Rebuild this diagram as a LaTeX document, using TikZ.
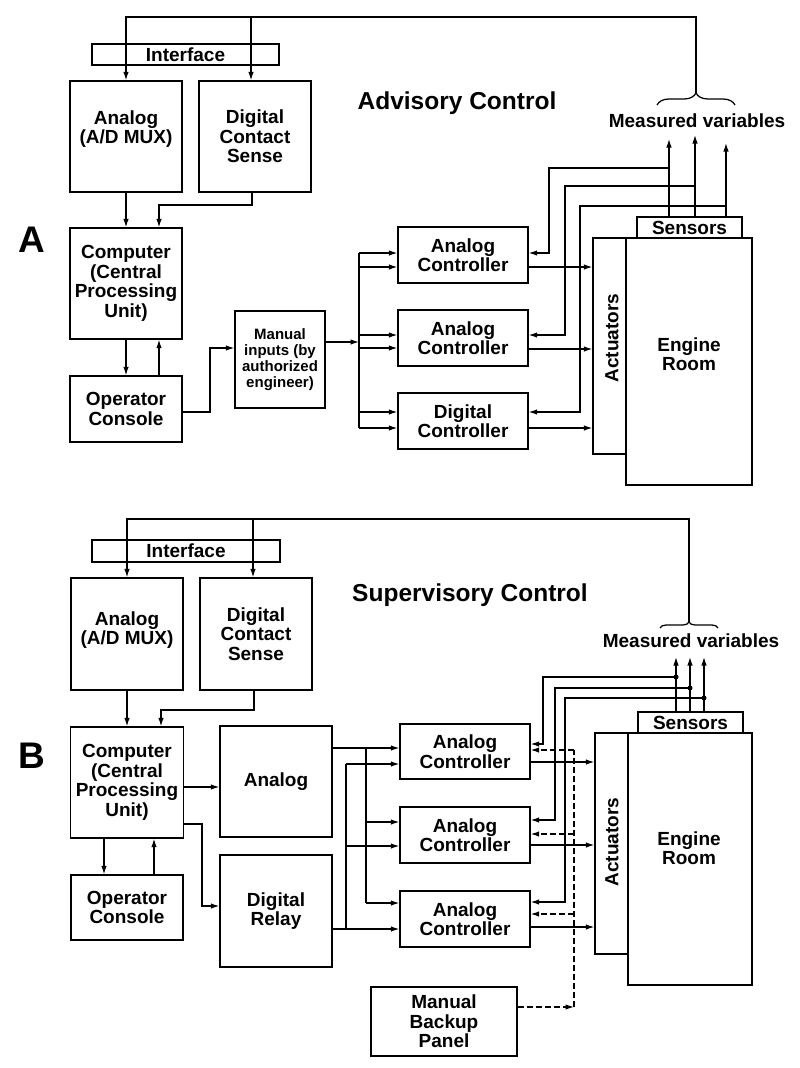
\documentclass[tikz,border=0pt]{standalone}
\usepackage{fontspec}
\setmainfont{Liberation Sans}
\usetikzlibrary{arrows.meta,decorations.pathreplacing}
\newcommand\lblf{\bfseries\fontsize{19}{19.5}\selectfont}
\newcommand\smf{\bfseries\fontsize{15}{16}\selectfont}
\newcommand\ttlf{\bfseries\fontsize{24.5}{26}\selectfont}
\newcommand\bigf{\bfseries\fontsize{37}{40}\selectfont}
\begin{document}
\begin{tikzpicture}[x=1pt,y=-1pt,
  box/.style={draw, line width=1.3pt, inner sep=0pt, align=center, font=\lblf},
  txt/.style={inner sep=0pt, align=center, font=\lblf},
  ln/.style={line width=1.25pt},
  arr/.style={ln, -{Latex[length=8.5pt,width=5.5pt]}},
  darr/.style={arr, dash pattern=on 6pt off 3pt},
  dln/.style={ln, dash pattern=on 6pt off 3pt},
  brc/.style={ln, decorate}]
\useasboundingbox (0,0) rectangle (800,1068);
\fill[white] (0,0) rectangle (800,1068);

% ================= Part A =================
\node[txt, font=\bigf] (labA) at (32,240) {A};
\node[txt, font=\ttlf] (ttlA) at (457,103) {Advisory Control};

\node[box, minimum width=187, minimum height=21] (ifA) at (185.5,54.5) {Interface};
\node[box, minimum width=112, minimum height=111] (anA) at (126,136.5) {};
\node[txt] (anAt) at (126,129) {Analog\\(A/D MUX)};
\node[box, minimum width=112, minimum height=111] (dcsA) at (255,136.5) {Digital\\Contact\\Sense};
\node[box, minimum width=112, minimum height=111] (cpuA) at (126,283.5) {Computer\\(Central\\Processing\\Unit)};
\node[box, minimum width=112, minimum height=66] (opA) at (126,409) {Operator\\Console};
\node[box, font=\smf, minimum width=90, minimum height=97] (manA) at (280,359.5) {Manual\\inputs (by\\authorized\\engineer)};
\node[box, minimum width=130, minimum height=56] (acA1) at (463,255) {Analog\\Controller};
\node[box, minimum width=130, minimum height=56] (acA2) at (463,338) {Analog\\Controller};
\node[box, minimum width=130, minimum height=56] (dcA) at (463,421) {Digital\\Controller};
\node[box, minimum width=105, minimum height=21] (senA) at (689.5,227.5) {Sensors};
\node[box, minimum width=33, minimum height=216] (actA) at (609.5,346) {};
\node[txt, rotate=90] (actAt) at (612,338) {Actuators};
\node[box, minimum width=126, minimum height=247] (engA) at (689,361.5) {};
\node[txt] (engAt) at (689,354) {Engine\\Room};

\coordinate (brA) at (696,93);
\draw[brc, decoration={brace, amplitude=12pt}] (657,105) -- (735,105);
\node[txt] (mvA) at (697,121) {Measured variables};

\draw[arr] (brA) |- (126,17) -- (126,0 |- anA.north);
\coordinate (jA) at (251,17);
\draw[arr] (jA) -- (251,0 |- dcsA.north);
\draw[arr] (anA.south) -- (cpuA.north);
\draw[arr] (252,0 |- dcsA.south) |- (159,205) -- (159,0 |- cpuA.north);
\draw[arr] (cpuA.south) -- (opA.north);
\draw[arr] (159,0 |- opA.north) -- (159,0 |- cpuA.south);
\draw[arr] (opA.east |- 0,412) -| (210,348) -- (manA.west |- 0,348);
\coordinate (busA) at (359,342);
\draw[arr] (manA.east |- busA) -- (busA);
\draw[ln] (359,253) -- (359,428);
\foreach \y/\n in {253/acA1,267/acA1,335/acA2,348/acA2,412/dcA,428/dcA}
  \draw[arr] (359,\y) -- (\n.west |- 0,\y);
\foreach \y/\n in {267/acA1,349/acA2,428/dcA}
  \draw[arr] (\n.east |- 0,\y) -- (actA.west |- 0,\y);
\draw[arr] (669,0 |- senA.north) -- (669,139);
\draw[arr] (695,0 |- senA.north) -- (695,135);
\draw[arr] (726,0 |- senA.north) -- (726,143);
\draw[arr] (669,168) -| (549,253) -- (acA1.east |- 0,253);
\draw[arr] (695,186) -| (565,335) -- (acA2.east |- 0,335);
\draw[arr] (726,206) -| (580,412) -- (dcA.east |- 0,412);

% ================= Part B =================
\node[txt, font=\bigf] (labB) at (32,756) {B};
\node[txt, font=\ttlf] (ttlB) at (470,595) {Supervisory Control};

\node[box, minimum width=188, minimum height=22] (ifB) at (186,551) {Interface};
\node[box, minimum width=112, minimum height=112] (anB) at (127,634) {};
\node[txt] (anBt) at (127,630) {Analog\\(A/D MUX)};
\node[box, minimum width=112, minimum height=112] (dcsB) at (256,634) {Digital\\Contact\\Sense};
\node[box, minimum width=113, minimum height=111] (cpuB) at (127,782.5) {Computer\\(Central\\Processing\\Unit)};
\node[box, minimum width=112, minimum height=65] (opB) at (127,907.5) {Operator\\Console};
\node[box, minimum width=112, minimum height=111] (anlB) at (276,781.5) {Analog};
\node[box, minimum width=112, minimum height=112] (rlyB) at (276,911) {Digital\\Relay};
\node[box, minimum width=130, minimum height=55] (acB1) at (465,751.5) {Analog\\Controller};
\node[box, minimum width=130, minimum height=56] (acB2) at (465,835) {Analog\\Controller};
\node[box, minimum width=130, minimum height=56] (acB3) at (465,919) {Analog\\Controller};
\node[box, minimum width=105, minimum height=21] (senB) at (690.5,722.5) {Sensors};
\node[box, minimum width=33, minimum height=221] (actB) at (611.5,843.5) {};
\node[txt, rotate=90] (actBt) at (612,842) {Actuators};
\node[box, minimum width=124, minimum height=252] (engB) at (690,859) {};
\node[txt] (engBt) at (689,848) {Engine\\Room};
\node[box, minimum width=146, minimum height=69] (mbpB) at (444,1021.5) {Manual\\Backup\\Panel};

\coordinate (brB) at (689,622);
\draw[brc, decoration={brace, amplitude=6pt}] (660,628) -- (718,628);
\node[txt] (mvB) at (691,641) {Measured variables};

\draw[arr] (brB) |- (127,519) -- (127,0 |- anB.north);
\coordinate (jB) at (253,519);
\draw[arr] (jB) -- (253,0 |- dcsB.north);
\draw[arr] (anB.south) -- (cpuB.north);
\draw[arr] (254,0 |- dcsB.south) |- (161,710) -- (161,0 |- cpuB.north);
\draw[arr] (104,0 |- cpuB.south) -- (104,0 |- opB.north);
\draw[arr] (154,0 |- opB.north) -- (154,0 |- cpuB.south);
\draw[arr] (cpuB.east |- 0,787) -- (anlB.west |- 0,787);
\draw[arr] (cpuB.east |- 0,824) -| (202,906) -- (rlyB.west |- 0,906);

\draw[arr] (anlB.east |- 0,748) -- (acB1.west |- 0,748);
\draw[ln] (366,748) -- (366,903);
\draw[arr] (366,822) -- (acB2.west |- 0,822);
\draw[arr] (366,903) -- (acB3.west |- 0,903);
\draw[arr] (rlyB.east |- 0,929) -- (acB3.west |- 0,929);
\draw[ln] (346,929) -- (346,764);
\draw[arr] (346,764) -- (acB1.west |- 0,764);
\draw[arr] (346,846) -- (acB2.west |- 0,846);

\foreach \y/\n in {762/acB1,845/acB2,927/acB3}
  \draw[arr] (\n.east |- 0,\y) -- (actB.west |- 0,\y);

\draw[arr] (676,0 |- senB.north) -- (676,657);
\draw[arr] (690,0 |- senB.north) -- (690,657);
\draw[arr] (704,0 |- senB.north) -- (704,657);
\fill (676,677) circle (2.5);
\fill (690,688) circle (2.5);
\fill (704,698) circle (2.5);
\draw[arr] (676,677) -| (543,744) -- (acB1.east |- 0,744);
\draw[arr] (690,688) -| (555,820) -- (acB2.east |- 0,820);
\draw[arr] (704,698) -| (565,902) -- (acB3.east |- 0,902);

\coordinate (dB) at (574,1007);
\draw[darr] (mbpB.east |- dB) -- (dB);
\draw[dln] (dB) -- (574,750);
\draw[darr] (574,750) -- (acB1.east |- 0,750);
\draw[darr] (574,834) -- (acB2.east |- 0,834);
\draw[darr] (574,914) -- (acB3.east |- 0,914);
\end{tikzpicture}
\end{document}
